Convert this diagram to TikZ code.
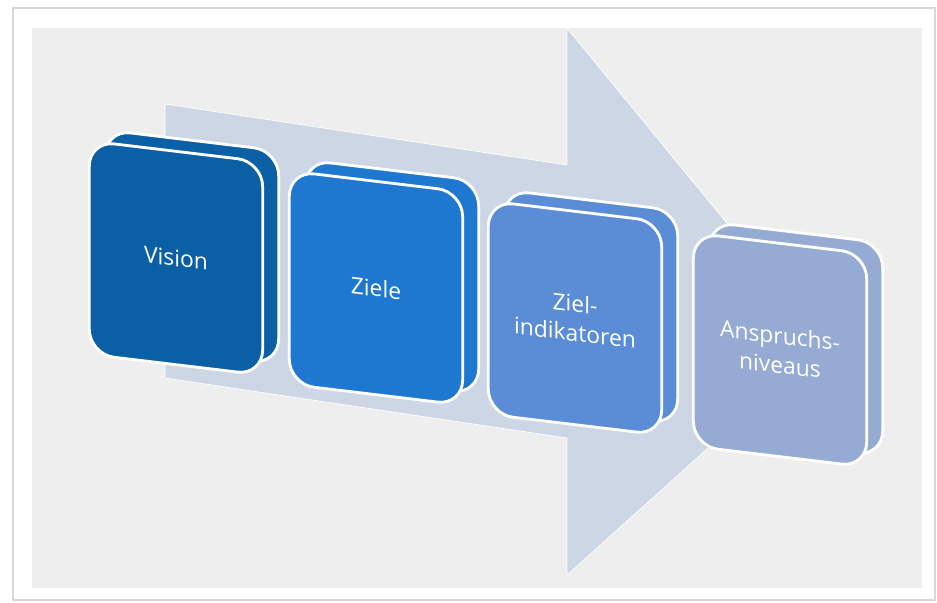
\documentclass[tikz,border=0pt]{standalone}
\usepackage{fontspec}
\setmainfont{Open Sans}
\usetikzlibrary{positioning}

\definecolor{cardgray}{HTML}{EEEEEE}
\definecolor{cardline}{HTML}{D8D8D8}
\definecolor{arrowfill}{HTML}{CCD6E4}
\definecolor{visionblue}{HTML}{0B5FA4}
\definecolor{zieleblue}{HTML}{1F78CF}
\definecolor{indikblue}{HTML}{5A8DD5}
\definecolor{niveaublue}{HTML}{96ABD3}

\tikzset{
  stufe/.style={draw=white, line width=2.4pt, fill=#1,
    rounded corners=0.75cm, minimum width=5.2cm, minimum height=6.4cm,
    inner sep=0pt, yslant=-0.12, transform shape,
    text=white, align=center, font=\fontsize{19.5}{25}\selectfont},
  rueck/.style={stufe=#1}
}

\begin{document}
\begin{tikzpicture}[x=0.03cm, y=-0.03cm]
% Karte
\fill [white] (0,0) rectangle (937,602);
\draw [cardline, line width=1pt] (13,8) rectangle (935,600);
\fill [cardgray] (32,28) rectangle (922,588);

% Pfeil im Hintergrund
\filldraw [fill=arrowfill, draw=white, line width=0.6pt]
  (165,104) -- (567,165) -- (567,28) -- (825,343)
  -- (567,575) -- (567,438) -- (165,378) -- cycle;

% Rueckseiten
\node [rueck=visionblue] (vision-back) at (192,247) {};
\node [rueck=zieleblue] (ziele-back) at (392,277) {};
\node [rueck=indikblue] (indikatoren-back) at (591,307) {};
\node [rueck=niveaublue] (niveaus-back) at (796,339) {};

% Vorderseiten
\node [stufe=visionblue] (vision) at (176,258) {Vision};
\node [stufe=zieleblue] (ziele) at (376,288) {Ziele};
\node [stufe=indikblue] (indikatoren) at (575,318) {Ziel-\\indikatoren};
\node [stufe=niveaublue] (niveaus) at (780,350) {Anspruchs-\\niveaus};
\end{tikzpicture}
\end{document}
